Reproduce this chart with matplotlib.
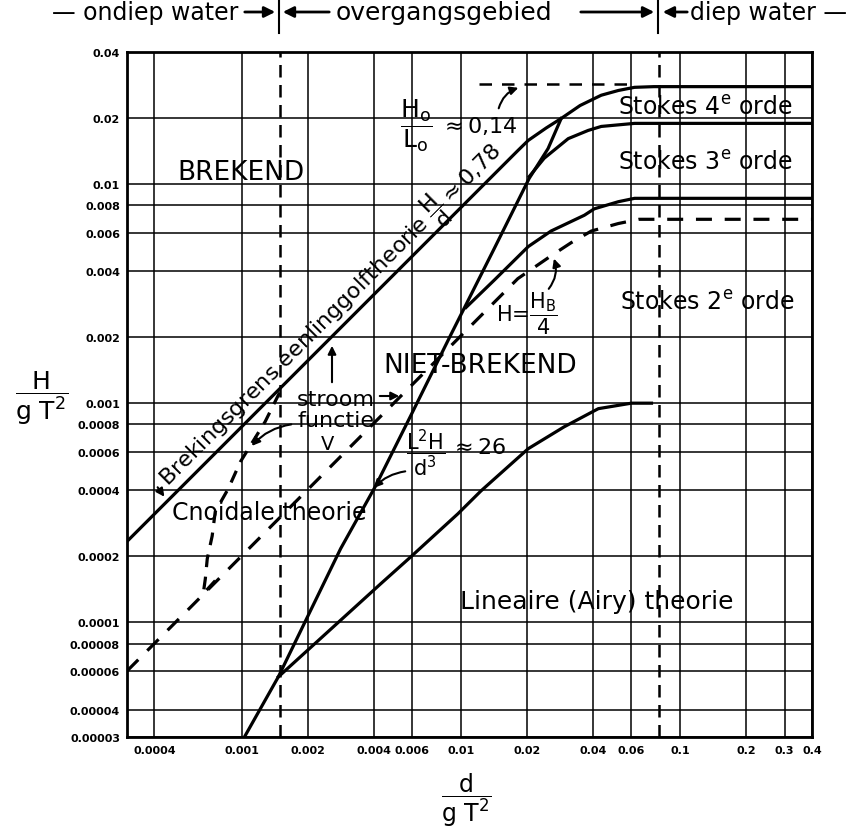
import matplotlib
matplotlib.use('Agg')
import matplotlib.pyplot as plt
from matplotlib.lines import Line2D
from matplotlib.ticker import NullLocator

plt.rcParams['font.family'] = ['DejaVu Sans']
plt.rcParams['mathtext.default'] = 'regular'

# rasterlijnen en labels
x_ticks = [0.0004, 0.001, 0.002, 0.004, 0.006, 0.01, 0.02, 0.04, 0.06, 0.1, 0.2, 0.3, 0.4]
x_labels = ['0.0004', '0.001', '0.002', '0.004', '0.006', '0.01', '0.02', '0.04', '0.06',
            '0.1', '0.2', '0.3', '0.4']
y_ticks = [0.00003, 0.00004, 0.00006, 0.00008, 0.0001, 0.0002, 0.0004, 0.0006, 0.0008,
           0.001, 0.002, 0.004, 0.006, 0.008, 0.01, 0.02, 0.04]
y_labels = ['0.00003', '0.00004', '0.00006', '0.00008', '0.0001', '0.0002', '0.0004', '0.0006',
            '0.0008', '0.001', '0.002', '0.004', '0.006', '0.008', '0.01', '0.02', '0.04']

# grenzen ondiep / overgang / diep water (d/gT^2)
grens_x = [0.0015, 0.08]

breking_x = [0.0003, 0.0182, 0.0203, 0.0245, 0.0287, 0.035, 0.0437, 0.0523, 0.062, 0.076, 0.4]
breking_y = [0.000234, 0.0142, 0.0158, 0.018, 0.0199, 0.0228, 0.0254, 0.0267, 0.0276, 0.0278, 0.0278]

steilheid_x = [0.0121, 0.062]   # H0/L0 = 0,14
steilheid_y = [0.0285, 0.0285]

stokes34_x = [0.0205, 0.024, 0.0309, 0.0381, 0.0437, 0.062, 0.4]
stokes34_y = [0.0108, 0.0131, 0.0161, 0.01755, 0.0183, 0.0189, 0.0189]

stokes23_x = [0.01055, 0.0142, 0.0203, 0.0258, 0.0366, 0.0406, 0.0523, 0.062, 0.4]
stokes23_y = [0.00273, 0.00364, 0.00518, 0.0061, 0.0072, 0.0077, 0.0083, 0.0086, 0.0086]

lineair_x = [0.00147, 0.00431, 0.00591, 0.0097, 0.01236, 0.0203, 0.0296, 0.0424, 0.06, 0.0741]
lineair_y = [0.0000564, 0.00015, 0.000199, 0.000313, 0.000398, 0.00062, 0.00078, 0.000944,
             0.001, 0.001]

ursell_x = [0.00103, 0.00147, 0.00283, 0.00409, 0.00591, 0.009, 0.0142, 0.0205, 0.025, 0.0287]
ursell_y = [0.00003, 0.0000564, 0.000217, 0.00042, 0.000877, 0.00205, 0.00507, 0.0106, 0.0145,
            0.0199]

kwart_x = [0.0003, 0.0182, 0.0258, 0.0319, 0.0394, 0.0523, 0.065, 0.4]   # H = H_B/4
kwart_y = [0.00006, 0.0037, 0.0047, 0.0054, 0.0061, 0.0066, 0.0069, 0.0069]

stroom_x = [0.000758, 0.000668, 0.000683, 0.000697, 0.000734, 0.000758, 0.000869, 0.000987,
            0.00128, 0.00155]
stroom_y = [0.000155, 0.000135, 0.000158, 0.000195, 0.000248, 0.00032, 0.000407, 0.00054,
            0.000823, 0.00121]

W, H = 852, 829
fig = plt.figure(figsize=(W / 100, H / 100), dpi=100)
ax = fig.add_axes([127 / W, (H - 738) / H, 685 / W, 685 / H])


def F(x, y):
    # pixelpositie in het plaatje -> figuurfractie
    return (x / W, 1 - y / H)


ax.set_xscale('log')
ax.set_yscale('log')
ax.set_xlim(0.0003, 0.4)
ax.set_ylim(0.00003, 0.04)
ax.set_xticks(x_ticks, x_labels)
ax.set_yticks(y_ticks, y_labels)
ax.xaxis.set_minor_locator(NullLocator())
ax.yaxis.set_minor_locator(NullLocator())
ax.tick_params(length=0, labelsize=8)
ax.tick_params(axis='x', pad=6)
ax.tick_params(axis='y', pad=5)
for lab in ax.get_xticklabels() + ax.get_yticklabels():
    lab.set_fontweight('bold')
ax.grid(True, color='black', lw=1.1)
for sp in ax.spines.values():
    sp.set_linewidth(2)

lw = 2.3
ax.plot(breking_x, breking_y, color='black', lw=lw)
ax.plot(steilheid_x, steilheid_y, color='black', lw=1.8, ls=(0, (5, 4)))
ax.plot(stokes34_x, stokes34_y, color='black', lw=lw)
ax.plot(stokes23_x, stokes23_y, color='black', lw=lw)
ax.plot(lineair_x, lineair_y, color='black', lw=lw)
ax.plot(ursell_x, ursell_y, color='black', lw=lw)
ax.plot(kwart_x, kwart_y, color='black', lw=lw, ls=(0, (5, 4)))
ax.plot(stroom_x, stroom_y, color='black', lw=lw, ls=(0, (4, 3)))
for gx in grens_x:
    ax.axvline(gx, color='black', lw=1.8, ls=(0, (5, 3)))

# teksten in het diagram
t = dict(color='black', ha='left', va='baseline')
fig.text(*F(177, 180), 'BREKEND', fontsize=19, **t)
fig.text(*F(383, 373), 'NIET-BREKEND', fontsize=19, **t)
fig.text(*F(618, 115), 'Stokes 4$^{e}$ orde', fontsize=17, **t)
fig.text(*F(618, 170), 'Stokes 3$^{e}$ orde', fontsize=17, **t)
fig.text(*F(620, 310), 'Stokes 2$^{e}$ orde', fontsize=17, **t)
fig.text(*F(460, 609), 'Lineaire (Airy) theorie', fontsize=18, **t)
fig.text(*F(172, 520), 'Cnoidale theorie', fontsize=17, **t)
fig.text(*F(297, 406), 'stroom', fontsize=16, **t)
fig.text(*F(298, 427), 'functie', fontsize=16, **t)
fig.text(*F(321, 450), 'V', fontsize=14, **t)
fig.text(*F(168, 487), r'Brekingsgrens eenlinggolftheorie $\dfrac{H}{d}$$\approx$0,78',
         fontsize=16, rotation=45, rotation_mode='anchor', **t)

c = dict(color='black', ha='left', va='center')
fig.text(*F(400, 126), r'$\dfrac{H_o}{L_o}$', fontsize=18, **c)
fig.text(*F(440, 126), r'$\approx$0,14', fontsize=16, **c)
fig.text(*F(496, 314), r'H=$\dfrac{H_B}{4}$', fontsize=15, **c)
fig.text(*F(406, 453), r'$\dfrac{L^2H}{d^3}$', fontsize=15, **c)
fig.text(*F(450, 448), r'$\approx$26', fontsize=16, **c)

pijl = dict(arrowstyle='-|>', color='black', lw=1.5, mutation_scale=12)
for start, eind, rad in [((377, 397), (402, 397), 0), ((294, 425), (250, 449), 0.2),
                         ((332, 386), (332, 344), 0), ((156, 486), (166, 500), 0),
                         ((408, 472), (372, 491), 0.2), ((547, 292), (553, 257), 0.3),
                         ((498, 112), (521, 88), -0.3)]:
    ax.annotate('', xy=F(*eind), xytext=F(*start), xycoords='figure fraction',
                textcoords='figure fraction',
                arrowprops=dict(connectionstyle=f'arc3,rad={rad}', **pijl))

# kop boven het diagram
kop = dict(color='black', fontsize=17, va='baseline')
fig.text(*F(238, 20), '— ondiep water', ha='right', **kop)
fig.text(*F(336, 20), 'overgangsgebied', ha='left', fontsize=18, color='black', va='baseline')
fig.text(*F(690, 20), 'diep water —', ha='left', **kop)
kpijl = dict(arrowstyle='-|>', color='black', lw=2, mutation_scale=16)
for start, eind in [((242, 13), (278, 13)), ((332, 13), (280, 13)),
                    ((578, 13), (657, 13)), ((690, 13), (660, 13))]:
    ax.annotate('', xy=F(*eind), xytext=F(*start), xycoords='figure fraction',
                textcoords='figure fraction', arrowprops=kpijl)
for gx in [279, 658]:
    fig.add_artist(Line2D([gx / W, gx / W], [1 - 2 / H, 1 - 34 / H], color='black', lw=1.5,
                          transform=fig.transFigure))

# asbijschriften
fig.text(*F(42, 398), r'$\dfrac{H}{g\ T^2}$', fontsize=18, ha='center', va='center')
fig.text(*F(466, 800), r'$\dfrac{d}{g\ T^2}$', fontsize=17, ha='center', va='center')

fig.savefig('out.png', dpi=100)
